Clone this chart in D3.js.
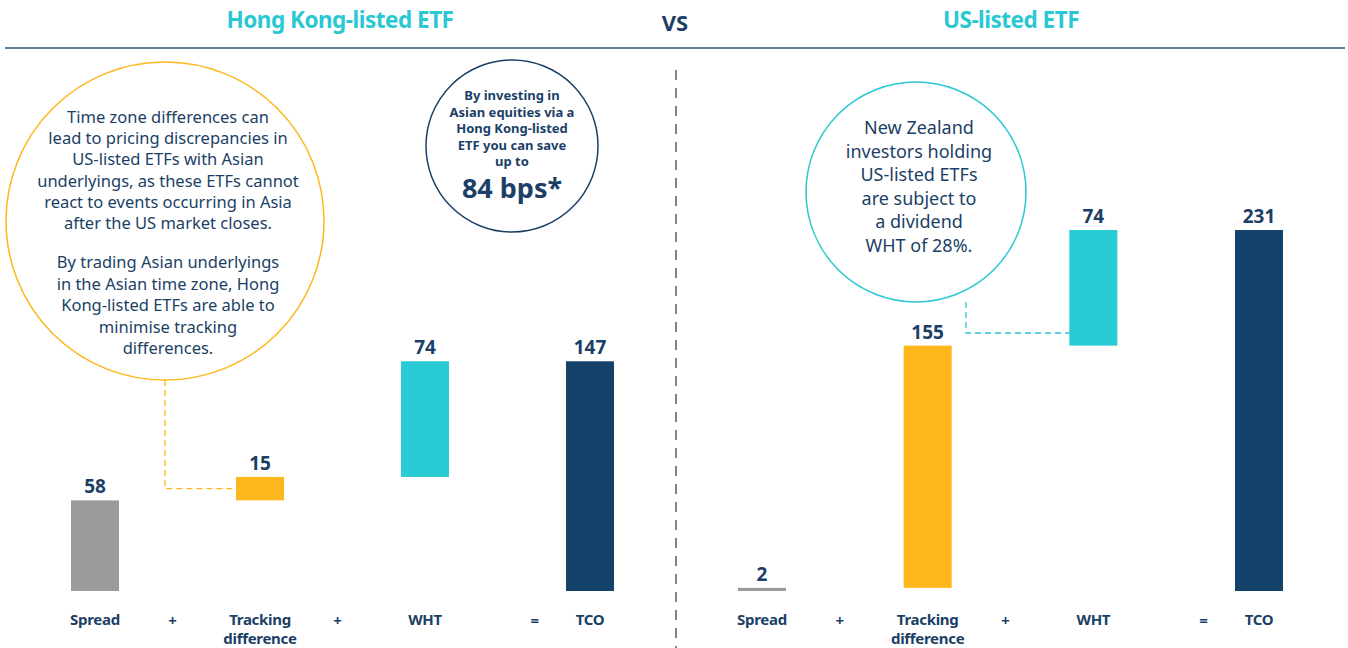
<!DOCTYPE html>
<html>
<head>
<meta charset="utf-8">
<script src="https://cdn.jsdelivr.net/npm/d3@7"></script>
<style>
  body { margin: 0; background: #fff; }
  svg text { font-family: "Noto Sans", "Open Sans", sans-serif; }
</style>
</head>
<body>
<div id="chart"></div>
<script>
// data
const categories = ["Spread", "Tracking difference", "WHT", "TCO"];
const hkValues = [58, 15, 74, 147];
const usValues = [2, 155, 74, 231];
const operators = ["+", "+", "="];
const barColors = ["#9b9b9b", "#fdb71c", "#29cbd4", "#15426b"];

const navy = "#1b3f66";
const teal = "#29c8d2";

const width = 1348, height = 648;

const svg = d3.select("#chart").append("svg")
    .attr("width", width)
    .attr("height", height);

// header
svg.append("line")
    .attr("x1", 5).attr("x2", 1345)
    .attr("y1", 48).attr("y2", 48)
    .attr("stroke", "#5f7f99")
    .attr("stroke-width", 2);

svg.append("text").attr("x", 340).attr("y", 28)
    .attr("text-anchor", "middle").attr("fill", teal)
    .attr("font-size", 22.5).attr("font-weight", "bold")
    .attr("letter-spacing", -0.5)
    .text("Hong Kong-listed ETF");

svg.append("text").attr("x", 675).attr("y", 31)
    .attr("text-anchor", "middle").attr("fill", navy)
    .attr("font-size", 22).attr("font-weight", "bold")
    .text("VS");

svg.append("text").attr("x", 1011).attr("y", 28)
    .attr("text-anchor", "middle").attr("fill", teal)
    .attr("font-size", 22.5).attr("font-weight", "bold")
    .attr("letter-spacing", -0.5)
    .text("US-listed ETF");

// divider
svg.append("line")
    .attr("x1", 676).attr("x2", 676)
    .attr("y1", 70).attr("y2", 648)
    .attr("stroke", "#333")
    .attr("stroke-width", 1.2)
    .attr("stroke-dasharray", "10,8");

// shared value scale
const y = d3.scaleLinear()
    .domain([0, d3.max(usValues)])
    .range([591, 230]);

const barW = 48;

function waterfall(values) {
    let acc = 0;
    return values.map((v, i) => {
        let d;
        if (i === values.length - 1) {
            d = { cat: categories[i], value: v, start: 0, end: v };
        } else {
            d = { cat: categories[i], value: v, start: acc, end: acc + v };
            acc += v;
        }
        return d;
    });
}

function drawPanel(values, range) {
    let x = d3.scalePoint().domain(categories).range(range);
    let data = waterfall(values);
    let g = svg.append("g");

    g.selectAll("rect.bar")
        .data(data)
        .enter()
        .append("rect")
        .attr("class", "bar")
        .attr("x", d => x(d.cat) - barW / 2)
        .attr("y", d => y(d.end))
        .attr("width", barW)
        .attr("height", d => y(d.start) - y(d.end))
        .attr("fill", (d, i) => barColors[i]);

    g.selectAll("text.val")
        .data(data)
        .enter()
        .append("text")
        .attr("class", "val")
        .attr("x", d => x(d.cat))
        .attr("y", d => y(d.end) - 7)
        .attr("text-anchor", "middle")
        .attr("fill", navy)
        .attr("font-size", 19)
        .attr("font-weight", "bold")
        .text(d => d.value);

    // category labels
    g.selectAll("text.cat")
        .data(categories)
        .enter()
        .append("text")
        .attr("class", "cat")
        .attr("x", d => x(d))
        .attr("y", 625)
        .attr("text-anchor", "middle")
        .attr("fill", navy)
        .attr("font-size", 15)
        .attr("font-weight", "bold")
        .attr("letter-spacing", -0.3)
        .each(function(d) {
            let words = d.split(" ");
            let t = d3.select(this);
            words.forEach((w, k) => {
                t.append("tspan")
                    .attr("x", x(d))
                    .attr("dy", k === 0 ? 0 : 19)
                    .text(w);
            });
        });

    // operators between categories
    let step = x.step();
    g.selectAll("text.op")
        .data(operators)
        .enter()
        .append("text")
        .attr("class", "op")
        .attr("x", (d, i) => d === "=" ? x(categories[i + 1]) - step * 0.335 : x(categories[i]) + step * 0.47)
        .attr("y", 626)
        .attr("text-anchor", "middle")
        .attr("fill", navy)
        .attr("font-size", 15)
        .attr("font-weight", "bold")
        .text(d => d);

    return x;
}

const xHK = drawPanel(hkValues, [95, 590]);
const xUS = drawPanel(usValues, [762, 1259]);

// callout circles
function multiline(cx, yStart, lines, lh, size, weight) {
    let t = svg.append("text")
        .attr("text-anchor", "middle")
        .attr("fill", navy)
        .attr("font-size", size)
        .attr("font-weight", weight);
    lines.forEach((l, k) => {
        t.append("tspan")
            .attr("x", cx)
            .attr("y", yStart + k * lh)
            .text(l);
    });
}

// yellow (HK tracking)
svg.append("circle")
    .attr("cx", 165).attr("cy", 221).attr("r", 159)
    .attr("fill", "none").attr("stroke", "#fdb71c").attr("stroke-width", 1.5);

multiline(168, 123, [
    "Time zone differences can",
    "lead to pricing discrepancies in",
    "US-listed ETFs with Asian",
    "underlyings, as these ETFs cannot",
    "react to events occurring in Asia",
    "after the US market closes."
], 21.2, 16.5, "normal");

multiline(168, 268, [
    "By trading Asian underlyings",
    "in the Asian time zone, Hong",
    "Kong-listed ETFs are able to",
    "minimise tracking",
    "differences."
], 21.6, 16.5, "normal");

let hkTrack = waterfall(hkValues)[1];
svg.append("path")
    .attr("d", d3.line()([[165, 380], [165, y(hkTrack.start + hkTrack.value / 2)], [xHK(categories[1]) - barW / 2, y(hkTrack.start + hkTrack.value / 2)]]))
    .attr("fill", "none")
    .attr("stroke", "#fdb71c")
    .attr("stroke-width", 1.3)
    .attr("stroke-dasharray", "6,4");

// navy savings circle
svg.append("circle")
    .attr("cx", 512).attr("cy", 146).attr("r", 86)
    .attr("fill", "none").attr("stroke", navy).attr("stroke-width", 1.5);

multiline(512, 100, [
    "By investing in",
    "Asian equities via a",
    "Hong Kong-listed",
    "ETF you can save",
    "up to"
], 16.6, 13, "bold");

svg.append("text")
    .attr("x", 512).attr("y", 198)
    .attr("text-anchor", "middle")
    .attr("fill", navy)
    .attr("font-size", 27)
    .attr("font-weight", "bold")
    .text((d3.max(usValues) - d3.max(hkValues)) + " bps*");

// teal (US WHT)
svg.append("circle")
    .attr("cx", 916).attr("cy", 192).attr("r", 110)
    .attr("fill", "none").attr("stroke", teal).attr("stroke-width", 1.5);

multiline(919, 134, [
    "New Zealand",
    "investors holding",
    "US-listed ETFs",
    "are subject to",
    "a dividend",
    "WHT of 28%."
], 23.5, 18, "normal");

svg.append("path")
    .attr("d", d3.line()([[966, 302], [966, 333], [xUS(categories[2]) - barW / 2, 333]]))
    .attr("fill", "none")
    .attr("stroke", teal)
    .attr("stroke-width", 1.3)
    .attr("stroke-dasharray", "6,4");
</script>
</body>
</html>
